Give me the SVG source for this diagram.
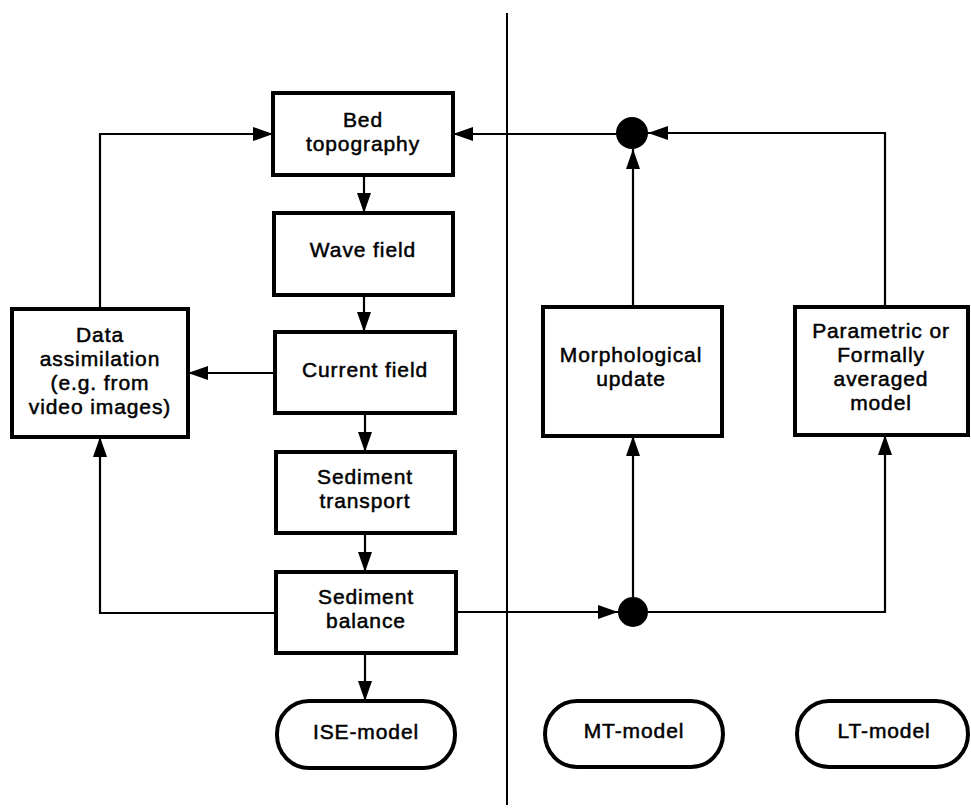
<svg xmlns="http://www.w3.org/2000/svg" width="971" height="809" viewBox="0 0 971 809">
<style>
.box{fill:#fff;stroke:#000;stroke-width:4}
.t{font-family:"Liberation Sans",Arial,Helvetica,sans-serif;font-size:21px;letter-spacing:0.9px;fill:#000;stroke:#000;stroke-width:0.5;text-anchor:middle}
.c{fill:none;stroke:#000;stroke-width:2.2}
.dot{fill:#000}
</style>
<defs>
<marker id="ah" markerUnits="userSpaceOnUse" markerWidth="20" markerHeight="14" refX="20" refY="7" orient="auto">
<path d="M0,0 L20,7 L0,14 Z" fill="#000"/>
</marker>
</defs>
<rect width="971" height="809" fill="#fff"/>
<line x1="507" y1="13" x2="507" y2="805" stroke="#000" stroke-width="2"/>
<g id="connectors">
<line class="c" x1="364" y1="175" x2="364" y2="213" marker-end="url(#ah)"/>
<line class="c" x1="364" y1="295" x2="364" y2="332" marker-end="url(#ah)"/>
<line class="c" x1="365" y1="413" x2="365" y2="452" marker-end="url(#ah)"/>
<line class="c" x1="365" y1="533" x2="365" y2="572" marker-end="url(#ah)"/>
<line class="c" x1="365" y1="653" x2="365" y2="701" marker-end="url(#ah)"/>
<line class="c" x1="275" y1="373" x2="188" y2="373" marker-end="url(#ah)"/>
<path class="c" d="M276,613 H100 V437" marker-end="url(#ah)"/>
<path class="c" d="M100,309 V134 H273" marker-end="url(#ah)"/>
<path class="c" d="M616,134 H453" marker-end="url(#ah)"/>
<path class="c" d="M885,307 V133 H648" stroke-width="3" marker-end="url(#ah)"/>
<path class="c" d="M633,307 V149" marker-end="url(#ah)"/>
<path class="c" d="M456,612 H618" marker-end="url(#ah)"/>
<path class="c" d="M633,597 V436" marker-end="url(#ah)"/>
<path class="c" d="M648,612 H885 V435" stroke-width="3" marker-end="url(#ah)"/>
</g>
<g id="junction-top"><circle class="dot" cx="632" cy="133" r="16"/></g>
<g id="junction-bottom"><circle class="dot" cx="633" cy="612" r="15"/></g>
<g id="bed-topography">
<rect class="box" x="273" y="93" width="180" height="82"/>
<text class="t" x="363" y="127">Bed</text>
<text class="t" x="363" y="151">topography</text>
</g>
<g id="wave-field">
<rect class="box" x="274" y="213" width="179" height="82"/>
<text class="t" x="363" y="257">Wave field</text>
</g>
<g id="current-field">
<rect class="box" x="275" y="332" width="180" height="81"/>
<text class="t" x="365" y="377">Current field</text>
</g>
<g id="sediment-transport">
<rect class="box" x="276" y="452" width="179" height="81"/>
<text class="t" x="365" y="484">Sediment</text>
<text class="t" x="365" y="508">transport</text>
</g>
<g id="sediment-balance">
<rect class="box" x="276" y="572" width="180" height="81"/>
<text class="t" x="366" y="604">Sediment</text>
<text class="t" x="366" y="628">balance</text>
</g>
<g id="data-assimilation">
<rect class="box" x="12" y="309" width="176" height="128"/>
<text class="t" x="100" y="342">Data</text>
<text class="t" x="100" y="366">assimilation</text>
<text class="t" x="100" y="390">(e.g. from</text>
<text class="t" x="100" y="414">video images)</text>
</g>
<g id="morphological-update">
<rect class="box" x="543" y="307" width="179" height="129"/>
<text class="t" x="631" y="362">Morphological</text>
<text class="t" x="631" y="386">update</text>
</g>
<g id="parametric-model">
<rect class="box" x="795" y="307" width="173" height="128"/>
<text class="t" x="881" y="338">Parametric or</text>
<text class="t" x="881" y="362">Formally</text>
<text class="t" x="881" y="386">averaged</text>
<text class="t" x="881" y="410">model</text>
</g>
<g id="ise-model">
<rect class="box" x="277" y="701" width="178" height="67" rx="32" ry="33"/>
<text class="t" x="366" y="739">ISE-model</text>
</g>
<g id="mt-model">
<rect class="box" x="545" y="701" width="178" height="66" rx="32" ry="33"/>
<text class="t" x="634" y="738">MT-model</text>
</g>
<g id="lt-model">
<rect class="box" x="797" y="701" width="171" height="66" rx="32" ry="33"/>
<text class="t" x="884" y="738">LT-model</text>
</g>
</svg>
